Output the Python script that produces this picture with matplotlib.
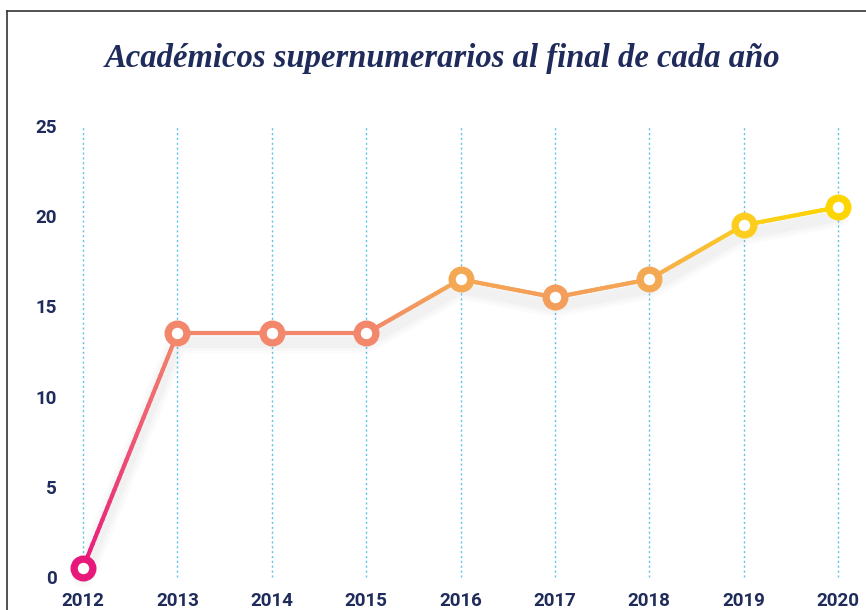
import numpy as np
import matplotlib
matplotlib.use('Agg')
import matplotlib.pyplot as plt
from matplotlib.collections import LineCollection
from matplotlib.colors import LinearSegmentedColormap, Normalize
from matplotlib.lines import Line2D

years = [2012, 2013, 2014, 2015, 2016, 2017, 2018, 2019, 2020]
valores = [0.5, 13.5, 13.5, 13.5, 16.5, 15.5, 16.5, 19.5, 20.5]
yticks = [0, 5, 10, 15, 20, 25]
titulo = 'Académicos supernumerarios al final de cada año'

navy = '#1f2b5b'
grid_blue = '#5cc3ea'

# color depends on the height of the line (vertical gradient)
cmap = LinearSegmentedColormap.from_list('grad', [
    (0.0, '#e8187b'),
    (0.65, '#f2876b'),
    (0.80, '#f5a853'),
    (0.95, '#fccd20'),
    (1.0, '#fdd500'),
])
norm = Normalize(vmin=0.5, vmax=20.5)

W, H = 866, 610
fig = plt.figure(figsize=(W / 100, H / 100), dpi=100)
ax = fig.add_axes([83 / W, 1 - 577 / H, (838 - 83) / W, (577 - 126) / H])

ax.set_xlim(2012, 2020)
ax.set_ylim(0, 25)
for s in ax.spines.values():
    s.set_visible(False)

# vertical dotted grid
for yr in years:
    ax.axvline(yr, color=grid_blue, lw=1.0, ls=(0, (1.5, 2)), zorder=1, clip_on=False)

# soft shadow
for k, a in [(16, 0.02), (12, 0.025), (8, 0.03)]:
    ax.plot(years, np.array(valores) - 0.5, color='#555555', lw=k, alpha=a,
            solid_capstyle='round', solid_joinstyle='round', zorder=2, clip_on=False)

# gradient line
xs, ys = [], []
for i in range(len(years) - 1):
    t = np.linspace(0, 1, 40)
    xs.extend(years[i] + t * (years[i + 1] - years[i]))
    ys.extend(valores[i] + t * (valores[i + 1] - valores[i]))
xs = np.array(xs)
ys = np.array(ys)
pts = np.column_stack([xs, ys]).reshape(-1, 1, 2)
segs = np.concatenate([pts[:-1], pts[1:]], axis=1)
lc = LineCollection(segs, colors=cmap(norm((ys[:-1] + ys[1:]) / 2)), linewidths=3.0,
                    capstyle='round', zorder=3, clip_on=False)
ax.add_collection(lc)

for x, y in zip(years, valores):
    ax.plot(x, y, 'o', ms=13.5, mew=5.2, mfc='white', mec=cmap(norm(y)),
            zorder=4, clip_on=False)

ax.set_xticks(years)
ax.set_xticklabels([str(y) for y in years])
ax.set_yticks(yticks)
ax.tick_params(length=0, colors=navy)
ax.tick_params(axis='x', pad=11)
ax.tick_params(axis='y', pad=19)
for lab in ax.get_xticklabels() + ax.get_yticklabels():
    lab.set_family(['Roboto', 'DejaVu Sans'])
    lab.set_fontweight('bold')
    lab.set_fontsize(13.5)
    lab.set_color(navy)

fig.text(443 / W, 1 - 58 / H, titulo, ha='center', va='center', fontsize=23.5,
         style='italic', fontweight='bold',
         family=['Liberation Serif', 'DejaVu Serif'], color=navy)

# frame (only top and left visible in the crop)
fig.add_artist(Line2D([7 / W, 1.0], [1 - 11 / H, 1 - 11 / H], color='#333333', lw=1.2))
fig.add_artist(Line2D([7 / W, 7 / W], [1 - 11 / H, 0.0], color='#333333', lw=1.2))

fig.savefig('out.png', dpi=100, facecolor='white')
